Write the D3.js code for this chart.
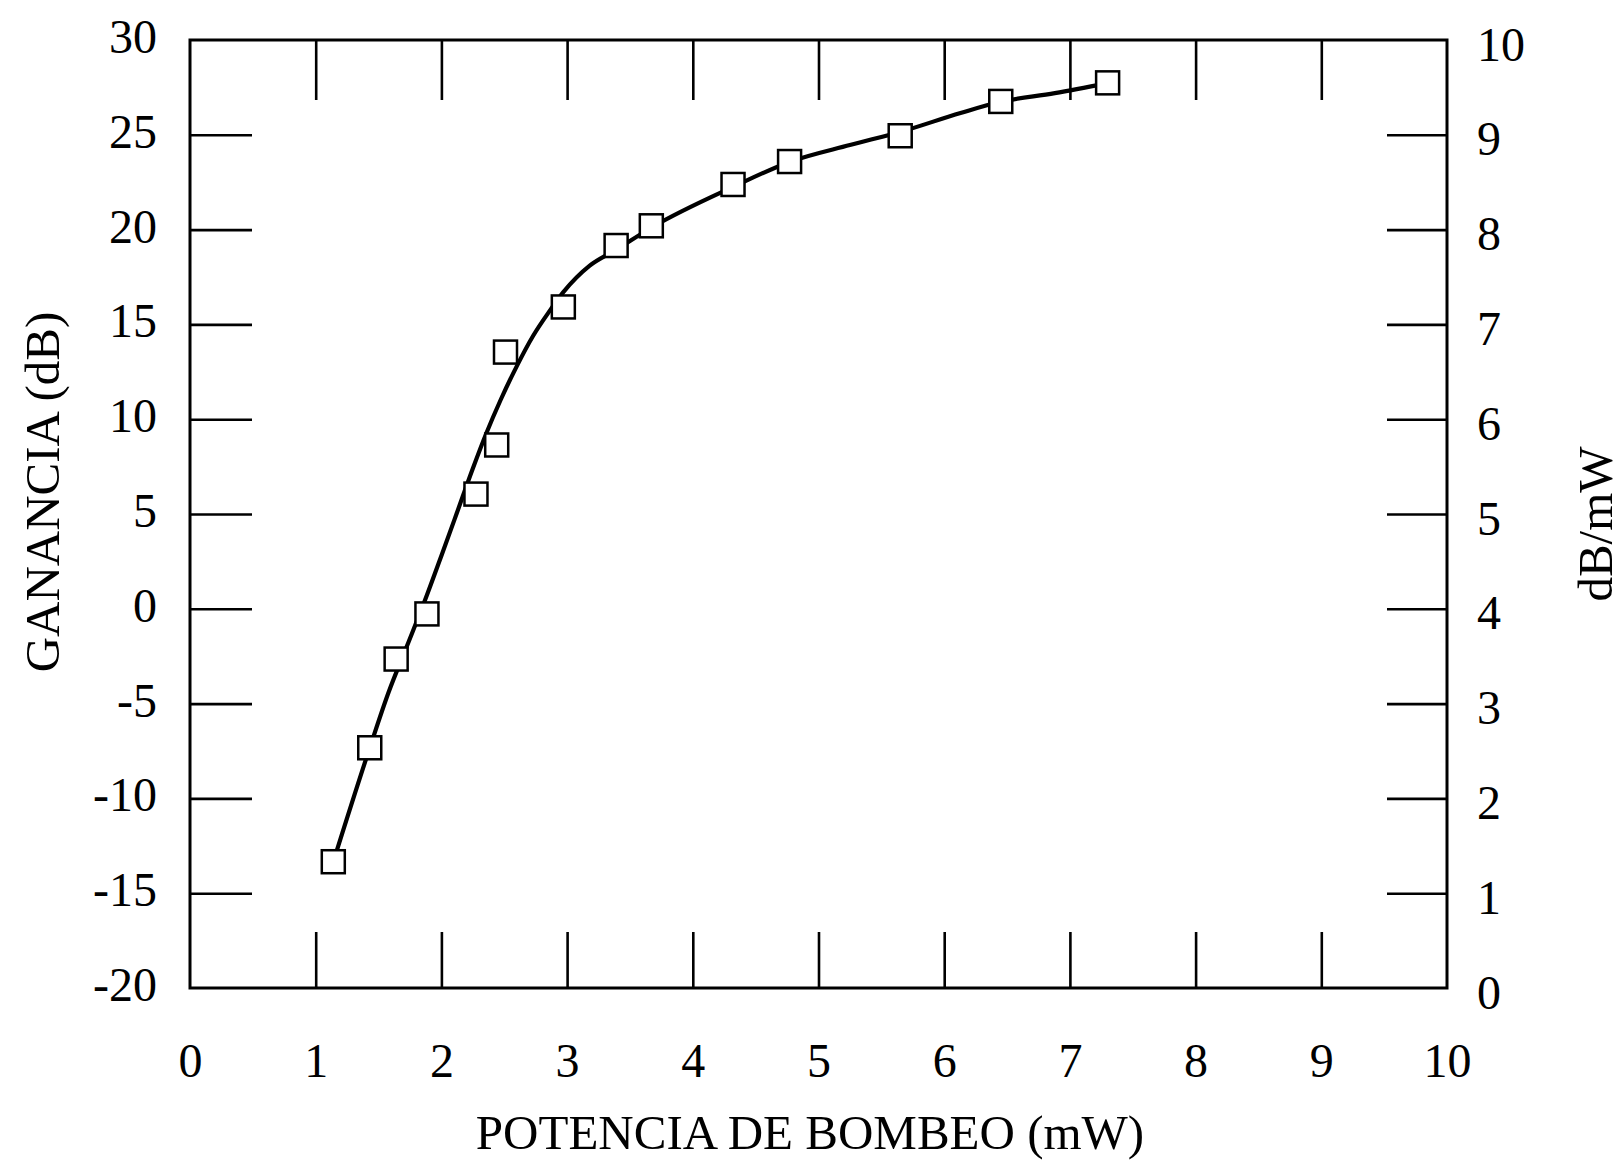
<!DOCTYPE html>
<html>
<head>
<meta charset="utf-8">
<script src="https://cdn.jsdelivr.net/npm/d3@7"></script>
<style>
  body { margin: 0; background: #fff; }
  text { font-family: "Liberation Serif", "Times New Roman", serif; fill: #000; }
</style>
</head>
<body>
<svg class="chart"></svg>
<script>
let width = 1624,
  height = 1161;

// measured points (pump power mW, gain dB)
let pumpPower = [1.14, 1.43, 1.64, 1.885, 2.275, 2.44, 2.51, 2.97, 3.39, 3.67, 4.32, 4.77, 5.65, 6.45, 7.30];
let gain = [-13.34, -7.33, -2.65, -0.27, 6.05, 8.64, 13.54, 15.92, 19.16, 20.2, 22.38, 23.59, 24.95, 26.76, 27.74];

// the drawn fit curve
let curveX = [1.14, 1.43, 1.58, 1.73, 1.87, 2.0, 2.12, 2.25, 2.36, 2.47, 2.60, 2.73, 2.86, 2.97, 3.18, 3.38, 3.68, 4.32, 4.77, 5.25, 5.65, 6.13, 6.44, 6.88, 7.30];
let curveY = [-13.34, -7.33, -4.4, -1.9, 0.46, 2.8, 5.0, 7.4, 9.3, 11.0, 12.8, 14.4, 15.7, 16.7, 18.1, 18.9, 20.14, 22.25, 23.57, 24.46, 25.15, 26.15, 26.73, 27.2, 27.73];

let xTicks = [0, 1, 2, 3, 4, 5, 6, 7, 8, 9, 10];
let leftTicks = [-20, -15, -10, -5, 0, 5, 10, 15, 20, 25, 30];
let rightTicks = [0, 1, 2, 3, 4, 5, 6, 7, 8, 9, 10];

// plot frame edges
let fLeft = 190, fRight = 1447, fTop = 40, fBottom = 988;

let svg = d3.select(".chart").attr("width", width).attr("height", height);

let x = d3.scaleLinear().domain([0, 10]).range([fLeft, fRight]);
let y = d3.scaleLinear().domain([-20, 30]).range([fBottom, fTop]);
let y2 = d3.scaleLinear().domain([0, 10]).range([fBottom, fTop]);

// plain hyphen for negatives, like the original
let fmt = d => String(d);

function styleAxis(g) {
  g.select(".domain").remove();
  g.selectAll("line").attr("stroke", "#000").attr("stroke-width", 2.6);
  g.selectAll("text")
    .attr("font-family", "Liberation Serif, serif")
    .attr("font-size", 48)
    .attr("fill", "#000");
}

// bottom axis
svg.append("g")
  .attr("transform", `translate(0,${fBottom})`)
  .call(d3.axisBottom(x).tickValues(xTicks).tickSize(-56).tickPadding(55).tickFormat(fmt))
  .call(styleAxis)
  .call(g => g.selectAll(".tick").filter(d => d === 0 || d === 10).select("line").remove());

// top axis, ticks only
svg.append("g")
  .attr("transform", `translate(0,${fTop})`)
  .call(d3.axisTop(x).tickValues(xTicks.slice(1, -1)).tickSize(-60).tickFormat(""))
  .call(styleAxis);

// left axis
svg.append("g")
  .attr("transform", `translate(${fLeft},0)`)
  .call(d3.axisLeft(y).tickValues(leftTicks).tickSize(-62).tickPadding(33).tickFormat(fmt))
  .call(styleAxis)
  .call(g => g.selectAll(".tick").filter(d => d === -20 || d === 30).select("line").remove())
  .call(g => g.selectAll("text").attr("dy", "0.26em"));

// right axis
svg.append("g")
  .attr("transform", `translate(${fRight},0)`)
  .call(d3.axisRight(y2).tickValues(rightTicks).tickSize(-60).tickPadding(30).tickFormat(fmt))
  .call(styleAxis)
  .call(g => g.selectAll(".tick").filter(d => d === 0 || d === 10).select("line").remove())
  .call(g => g.selectAll("text").attr("dy", "0.42em"));

// frame
svg.append("rect")
  .attr("x", fLeft)
  .attr("y", fTop)
  .attr("width", fRight - fLeft)
  .attr("height", fBottom - fTop)
  .attr("fill", "none")
  .attr("stroke", "#000")
  .attr("stroke-width", 3);

// fit curve
let line = d3.line()
  .x(d => x(d[0]))
  .y(d => y(d[1]))
  .curve(d3.curveMonotoneX);

svg.append("path")
  .datum(curveX.map((v, i) => [v, curveY[i]]))
  .attr("fill", "none")
  .attr("stroke", "#000")
  .attr("stroke-width", 4.2)
  .attr("stroke-linejoin", "round")
  .attr("d", line);

// square markers
let sq = 23;
svg.selectAll(".symbol")
  .data(pumpPower.map((v, i) => [v, gain[i]]))
  .enter()
  .append("rect")
  .attr("class", "symbol")
  .attr("x", d => x(d[0]) - sq / 2)
  .attr("y", d => y(d[1]) - sq / 2)
  .attr("width", sq)
  .attr("height", sq)
  .attr("fill", "#fff")
  .attr("stroke", "#000")
  .attr("stroke-width", 2.5);

// axis titles
svg.append("text")
  .attr("x", 810)
  .attr("y", 1149)
  .attr("text-anchor", "middle")
  .attr("font-size", 49)
  .text("POTENCIA DE BOMBEO (mW)");

svg.append("text")
  .attr("transform", "translate(59,492) rotate(-90)")
  .attr("text-anchor", "middle")
  .attr("font-size", 49)
  .text("GANANCIA (dB)");

svg.append("text")
  .attr("transform", "translate(1612,524) rotate(-90)")
  .attr("text-anchor", "middle")
  .attr("font-size", 49)
  .text("dB/mW");
</script>
</body>
</html>
